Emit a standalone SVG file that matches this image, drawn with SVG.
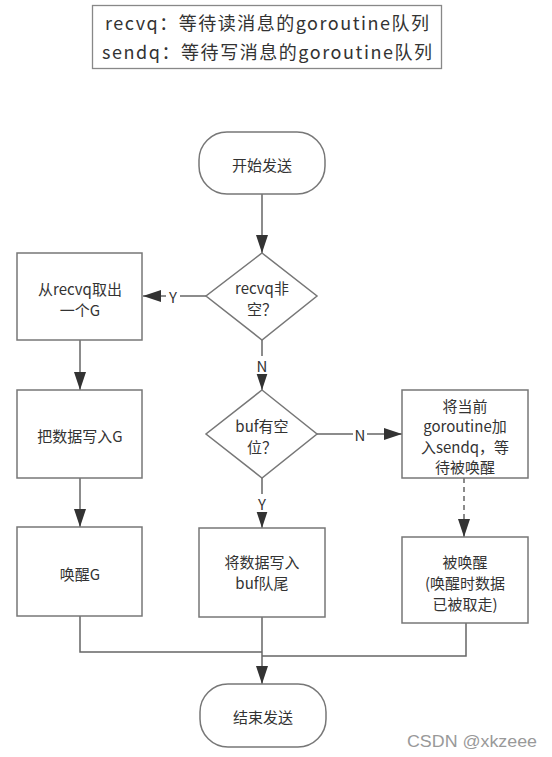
<svg xmlns="http://www.w3.org/2000/svg" width="552" height="757" viewBox="0 0 552 757">
<style>
.shape{fill:#fff;stroke:#777;stroke-width:1.5}
.conn{fill:none;stroke:#666;stroke-width:1.5}
.dash{stroke-dasharray:5 4}
.t{font-family:"Microsoft YaHei","Noto Sans CJK SC","Noto Sans",sans-serif;font-size:15px;fill:#333;text-anchor:middle;dominant-baseline:central}
.lg{font-size:18px}
.lbl{fill:#fff;stroke:none}
.wm{font-family:"Liberation Sans",Arial,sans-serif;font-size:16px;fill:#999}
</style>
<defs>
<marker id="ah" markerUnits="userSpaceOnUse" markerWidth="18" markerHeight="12" viewBox="0 0 18 12" refX="18" refY="6" orient="auto">
<path d="M0,0 L18,6 L0,12 Z" fill="#333"/>
</marker>
</defs>
<rect width="552" height="757" fill="#fff"/>

<g id="legend">
<rect x="92.5" y="5.5" width="349" height="63" fill="#fff" stroke="#888" stroke-width="1.3"/>
<text class="t lg" x="267" y="22" textLength="324" lengthAdjust="spacing">recvq：等待读消息的goroutine队列</text>
<text class="t lg" x="267" y="51" textLength="330" lengthAdjust="spacing">sendq：等待写消息的goroutine队列</text>
</g>

<g id="connectors">
<line class="conn" x1="262" y1="194" x2="262" y2="253" marker-end="url(#ah)"/>
<line class="conn" x1="206" y1="296" x2="143" y2="296" marker-end="url(#ah)"/>
<line class="conn" x1="262" y1="340" x2="262" y2="390" marker-end="url(#ah)"/>
<line class="conn" x1="80" y1="340" x2="80" y2="390" marker-end="url(#ah)"/>
<line class="conn" x1="80" y1="478" x2="80" y2="527" marker-end="url(#ah)"/>
<line class="conn" x1="317" y1="434" x2="402" y2="434" marker-end="url(#ah)"/>
<line class="conn" x1="262" y1="478" x2="262" y2="528" marker-end="url(#ah)"/>
<line class="conn dash" x1="464" y1="478" x2="464" y2="537" marker-end="url(#ah)"/>
<polyline class="conn" points="80,616 80,652 262,652"/>
<polyline class="conn" points="466,623 466,656 262,656"/>
<line class="conn" x1="262" y1="617" x2="262" y2="684" marker-end="url(#ah)"/>
<rect class="lbl" x="166" y="287" width="14" height="18"/>
<text class="t" x="173" y="296">Y</text>
<rect class="lbl" x="255" y="356" width="14" height="18"/>
<text class="t" x="262" y="365">N</text>
<rect class="lbl" x="255" y="494" width="14" height="18"/>
<text class="t" x="262" y="503">Y</text>
<rect class="lbl" x="353" y="425" width="14" height="18"/>
<text class="t" x="360" y="434">N</text>
</g>

<g id="start">
<rect class="shape" x="199" y="132" width="126" height="62" rx="28" ry="28"/>
<text class="t" x="262" y="164">开始发送</text>
</g>

<g id="d1">
<polygon class="shape" points="262,253 317,296 262,340 206,296"/>
<text class="t" x="262" y="287">recvq非</text>
<text class="t" x="262" y="308">空？</text>
</g>

<g id="take">
<rect class="shape" x="17" y="253" width="125" height="87"/>
<text class="t" x="80" y="288">从recvq取出</text>
<text class="t" x="80" y="309">一个G</text>
</g>

<g id="write-g">
<rect class="shape" x="17" y="390" width="125" height="88"/>
<text class="t" x="80" y="435">把数据写入G</text>
</g>

<g id="wake-g">
<rect class="shape" x="17" y="527" width="125" height="89"/>
<text class="t" x="80" y="573">唤醒G</text>
</g>

<g id="d2">
<polygon class="shape" points="262,390 317,434 262,478 206,434"/>
<text class="t" x="262" y="425">buf有空</text>
<text class="t" x="262" y="446">位？</text>
</g>

<g id="enqueue">
<rect class="shape" x="402" y="390" width="126" height="88"/>
<text class="t" x="465" y="405">将当前</text>
<text class="t" x="465" y="425.5">goroutine加</text>
<text class="t" x="465" y="446">入sendq，等</text>
<text class="t" x="465" y="466.5">待被唤醒</text>
</g>

<g id="write-buf">
<rect class="shape" x="199" y="528" width="126" height="89"/>
<text class="t" x="262" y="561">将数据写入</text>
<text class="t" x="262" y="582">buf队尾</text>
</g>

<g id="woken">
<rect class="shape" x="402" y="537" width="126" height="86"/>
<text class="t" x="465" y="561">被唤醒</text>
<text class="t" x="465" y="582">(唤醒时数据</text>
<text class="t" x="465" y="603">已被取走)</text>
</g>

<g id="end">
<rect class="shape" x="200" y="684" width="126" height="63" rx="28" ry="28"/>
<text class="t" x="263" y="716">结束发送</text>
</g>

<text class="wm" x="407" y="747" textLength="130" lengthAdjust="spacingAndGlyphs">CSDN @xkzeee</text>
</svg>
